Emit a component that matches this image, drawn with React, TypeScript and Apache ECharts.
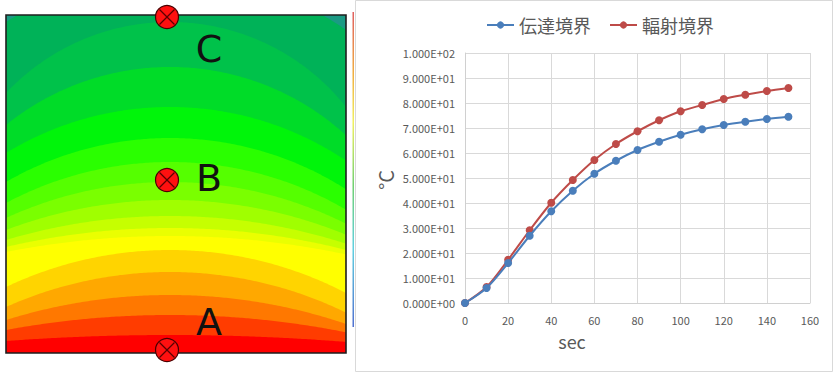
import React, { useEffect, useRef } from "react";
import * as echarts from "echarts";

// ---- Line chart data ----
const timeSec = [0, 10, 20, 30, 40, 50, 60, 70, 80, 90, 100, 110, 120, 130, 140, 150];
const conductionBoundary = [0, 6.0, 16.0, 26.9, 36.7, 44.9, 51.7, 56.9, 61.2, 64.5, 67.3, 69.5, 71.2, 72.5, 73.6, 74.5];
const radiationBoundary = [0, 6.4, 17.3, 29.1, 40.1, 49.2, 57.2, 63.6, 68.7, 73.1, 76.7, 79.2, 81.6, 83.3, 84.8, 86.0];
const seriesNames = ["伝達境界", "輻射境界"];
const xAxisTitle = "sec";
const yAxisTitle = "°C";

// ---- Contour picture (quantized temperature bands) ----
const bandCenterY = [-25, 22, 67, 107, 138, 162, 182, 200, 216, 228, 236, 250, 272, 295, 315, 335];
const bandEdgeY = [22, 93, 125, 153, 182, 203, 218, 230, 240, 247, 252, 287, 307, 320, 330, 341];
const bandColors = [
  "#00b258", "#00c24a", "#00dc28", "#00f50a", "#2aff00", "#55ff00", "#7aff00", "#a0ff00",
  "#c6ff00", "#eaff00", "#ffff00", "#ffd400", "#ffa800", "#ff7800", "#ff3c00", "#ff0000",
];
const pointLabels = ["C", "B", "A"];

const fmtExp = (v: number) => {
  const [m, e] = v.toExponential(3).split("e");
  const n = parseInt(e, 10);
  return m + "E" + (n < 0 ? "-" : "+") + String(Math.abs(n)).padStart(2, "0");
};

function buildContour(): any[] {
  const L = 6, R = 346, T = 15, B = 353, xc = 170;
  const els: any[] = [];
  els.push({ type: "rect", shape: { x: L, y: T, width: R - L, height: B - T }, style: { fill: "#1b9a84" }, z: 1 });
  const dx = xc - L;
  bandCenterY.forEach((cy, i) => {
    const d = bandEdgeY[i] - cy;
    const rad = (dx * dx + d * d) / (2 * d);
    const y0 = cy + rad;
    const pts: number[][] = [];
    for (let x = L; x <= R + 0.01; x += 2) {
      const dd = rad * rad - (x - xc) * (x - xc);
      let y = dd < 0 ? B : y0 - Math.sqrt(dd);
      y = Math.max(T, Math.min(B, y));
      pts.push([x, y]);
    }
    pts.push([R, B]);
    pts.push([L, B]);
    els.push({ type: "polygon", shape: { points: pts }, style: { fill: bandColors[i] }, z: 2 + i });
  });
  els.push({
    type: "rect",
    shape: { x: L, y: T, width: R - L, height: B - T },
    style: { fill: "none", stroke: "#1e1e1e", lineWidth: 1.6 },
    z: 40,
  });
  // colour bar sliver
  els.push({
    type: "rect",
    shape: { x: 352.5, y: 12, width: 1.5, height: 315 },
    style: {
      fill: new echarts.graphic.LinearGradient(0, 0, 0, 1, [
        { offset: 0, color: "#e06060" },
        { offset: 0.2, color: "#f0b040" },
        { offset: 0.35, color: "#f0f060" },
        { offset: 0.55, color: "#70d070" },
        { offset: 0.75, color: "#60d0e0" },
        { offset: 1, color: "#5070d0" },
      ]),
    },
    z: 40,
  });
  const markerY = [17, 180, 350];
  const labelY = [49, 178, 322];
  markerY.forEach((my, i) => {
    const mx = 167, r = 11.5, k = 7.5;
    els.push({
      type: "group",
      z: 50,
      children: [
        { type: "circle", shape: { cx: mx, cy: my, r }, style: { fill: "#ff1010", stroke: "#4a0000", lineWidth: 1.2 }, z: 50 },
        { type: "line", shape: { x1: mx - k, y1: my - k, x2: mx + k, y2: my + k }, style: { stroke: "#5a0000", lineWidth: 1.2 }, z: 51 },
        { type: "line", shape: { x1: mx - k, y1: my + k, x2: mx + k, y2: my - k }, style: { stroke: "#5a0000", lineWidth: 1.2 }, z: 51 },
      ],
    });
    els.push({
      type: "text",
      x: 209,
      y: labelY[i],
      z: 50,
      style: {
        text: pointLabels[i],
        fill: "#111111",
        font: "38px 'DejaVu Sans', sans-serif",
        align: "center",
        verticalAlign: "middle",
      },
    });
  });
  return els;
}

export default function App() {
  const ref = useRef<HTMLDivElement>(null);
  useEffect(() => {
    if (!ref.current) return;
    const chart = echarts.init(ref.current, undefined, { renderer: "svg" });
    const font = "'Noto Sans CJK JP', 'Noto Sans', sans-serif";
    chart.setOption({
      animation: false,
      backgroundColor: "#ffffff",
      textStyle: { fontFamily: font },
      legend: {
        data: seriesNames,
        left: 481,
        top: 11,
        itemWidth: 27,
        itemHeight: 9,
        itemGap: 18,
        textStyle: { fontSize: 18, color: "#595959", fontFamily: font },
      },
      grid: { left: 465, right: 25, top: 53, bottom: 70, containLabel: false },
      xAxis: {
        type: "value",
        min: 0,
        max: 160,
        interval: 20,
        axisLine: { show: true, lineStyle: { color: "#d0d0d0", width: 1 } },
        axisTick: { show: false },
        splitLine: { show: true, lineStyle: { color: "#d9d9d9", width: 1 } },
        axisLabel: { color: "#595959", fontSize: 11, margin: 11, fontFamily: font },
      },
      yAxis: {
        type: "value",
        min: 0,
        max: 100,
        interval: 10,
        axisLine: { show: true, lineStyle: { color: "#d0d0d0", width: 1 } },
        axisTick: { show: false },
        splitLine: { show: true, lineStyle: { color: "#d9d9d9", width: 1 } },
        axisLabel: { color: "#595959", fontSize: 11, margin: 10, formatter: fmtExp, fontFamily: font },
      },
      series: [
        {
          name: seriesNames[0],
          type: "line",
          data: timeSec.map((t, i) => [t, conductionBoundary[i]]),
          smooth: 0.3,
          symbol: "circle",
          symbolSize: 8,
          color: "#4a7ebb",
          lineStyle: { width: 2, color: "#4a7ebb" },
          itemStyle: { color: "#4a7ebb" },
          z: 3,
        },
        {
          name: seriesNames[1],
          type: "line",
          data: timeSec.map((t, i) => [t, radiationBoundary[i]]),
          smooth: 0.3,
          symbol: "circle",
          symbolSize: 8,
          color: "#be4b48",
          lineStyle: { width: 2, color: "#be4b48" },
          itemStyle: { color: "#be4b48" },
          z: 2,
        },
      ],
      graphic: [
        {
          type: "rect",
          shape: { x: 355.5, y: 0.5, width: 477, height: 371 },
          style: { fill: "none", stroke: "#d9d9d9", lineWidth: 1 },
          z: 0,
        },
        ...buildContour(),
        {
          type: "text",
          x: 572,
          y: 341,
          style: { text: xAxisTitle, fill: "#595959", font: `18px ${font}`, align: "center", verticalAlign: "middle" },
        },
        {
          type: "text",
          x: 385,
          y: 180,
          rotation: Math.PI / 2,
          style: { text: yAxisTitle, fill: "#595959", font: `20px ${font}`, align: "center", verticalAlign: "middle" },
        },
      ],
    });
    return () => chart.dispose();
  }, []);
  return <div ref={ref} style={{ position: "absolute", left: 0, top: 0, width: 835, height: 373 }} />;
}
